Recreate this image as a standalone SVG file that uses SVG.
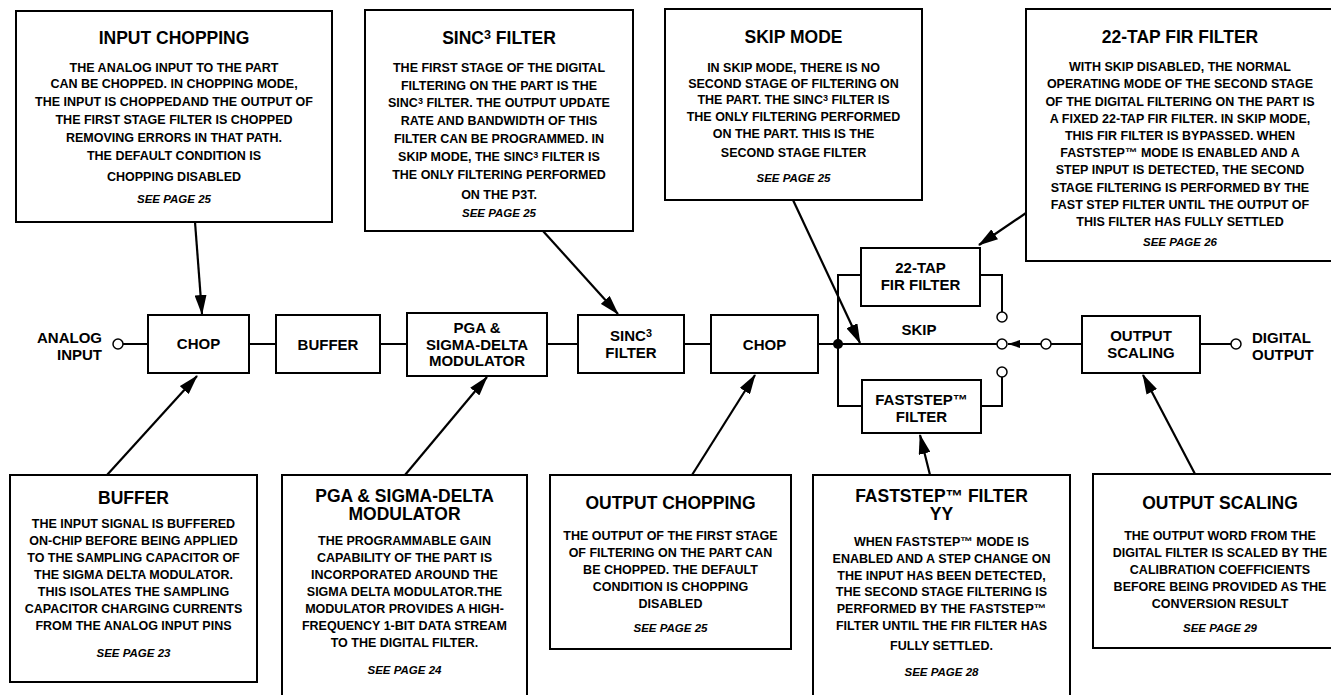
<svg xmlns="http://www.w3.org/2000/svg" width="1331" height="695" viewBox="0 0 1331 695">
<defs>
<style>
.box{fill:#fff;stroke:#000;stroke-width:2}
.t{font-family:"Liberation Sans",Arial,Helvetica,sans-serif;font-weight:bold;text-anchor:middle;fill:#000}
.ti{font-size:17.5px}
.b{font-size:12.5px}
.s{font-size:11.5px;font-style:italic}
.l{font-size:15px}
.sup{font-size:72%;baseline-shift:38%}
.w{stroke:#000;stroke-width:2;fill:none}
.a{stroke:#000;stroke-width:2.2;fill:none;marker-end:url(#ah)}
.pin{fill:#fff;stroke:#000;stroke-width:1.5}
</style>
<marker id="ah" viewBox="0 0 20 12" refX="19" refY="6" markerWidth="20" markerHeight="12" markerUnits="userSpaceOnUse" orient="auto"><path d="M0,0 L20,6 L0,12 z" fill="#000"/></marker>
<marker id="ahs" viewBox="0 0 12 8" refX="12" refY="4" markerWidth="12" markerHeight="8" markerUnits="userSpaceOnUse" orient="auto"><path d="M0,0 L12,4 L0,8 z" fill="#000"/></marker>
</defs>
<rect width="1331" height="695" fill="#fff"/>

<g id="connectors">
<line class="w" x1="123" y1="344" x2="148" y2="344"/>
<line class="w" x1="249" y1="344" x2="276" y2="344"/>
<line class="w" x1="380" y1="344" x2="407" y2="344"/>
<line class="w" x1="547" y1="344" x2="578" y2="344"/>
<line class="w" x1="684" y1="344" x2="711" y2="344"/>
<line class="w" x1="818" y1="344" x2="997" y2="344"/>
<polyline class="w" points="861,275 838,275 838,406 862,406"/>
<polyline class="w" points="980,275 1002,275 1002,312"/>
<polyline class="w" points="981,406 1002,406 1002,377"/>
<line class="w" x1="1041" y1="344" x2="1008" y2="344" marker-end="url(#ahs)"/>
<line class="w" x1="1051" y1="344" x2="1082" y2="344"/>
<line class="w" x1="1200" y1="344" x2="1231" y2="344"/>
<circle cx="838" cy="344" r="5" fill="#000"/>
<circle class="pin" cx="118" cy="344" r="5"/>
<circle class="pin" cx="1002" cy="317" r="5"/>
<circle class="pin" cx="1002" cy="344" r="5"/>
<circle class="pin" cx="1002" cy="372" r="5"/>
<circle class="pin" cx="1046" cy="344" r="5"/>
<circle class="pin" cx="1236" cy="344" r="5"/>
<line class="a" x1="195" y1="222" x2="202" y2="314"/>
<line class="a" x1="543" y1="231" x2="618" y2="314"/>
<line class="a" x1="793" y1="200" x2="860" y2="343"/>
<line class="a" x1="1026" y1="213" x2="979" y2="245"/>
<line class="a" x1="107" y1="475" x2="197" y2="376"/>
<line class="a" x1="405" y1="475" x2="487" y2="377"/>
<line class="a" x1="692" y1="475" x2="755" y2="375"/>
<line class="a" x1="930" y1="475" x2="920" y2="435"/>
<line class="a" x1="1195" y1="474" x2="1143" y2="375"/>
</g>

<g id="analog-input"><text class="t l" style="text-anchor:end"><tspan x="102" y="343">ANALOG</tspan><tspan x="102" y="360">INPUT</tspan></text></g>
<g id="digital-output"><text class="t l" style="text-anchor:start"><tspan x="1252" y="343">DIGITAL</tspan><tspan x="1252" y="360">OUTPUT</tspan></text></g>
<g id="skip-label"><text class="t l" x="919" y="335">SKIP</text></g>

<g id="chop1"><rect class="box" x="148" y="315" width="101" height="58"/><text class="t l" x="198.5" y="349">CHOP</text></g>
<g id="buffer"><rect class="box" x="276" y="315" width="104" height="58"/><text class="t l" x="328" y="350">BUFFER</text></g>
<g id="pga"><rect class="box" x="407" y="313" width="140" height="63"/><text class="t l"><tspan x="477" y="333">PGA &amp;</tspan><tspan x="477" y="349.5">SIGMA-DELTA</tspan><tspan x="477" y="366">MODULATOR</tspan></text></g>
<g id="sinc3"><rect class="box" x="578" y="315" width="106" height="58"/><text class="t l"><tspan x="631" y="341">SINC<tspan class="sup">3</tspan></tspan><tspan x="631" y="358">FILTER</tspan></text></g>
<g id="chop2"><rect class="box" x="711" y="315" width="107" height="58"/><text class="t l" x="764.5" y="350">CHOP</text></g>
<g id="fir"><rect class="box" x="861" y="248" width="119" height="58"/><text class="t l"><tspan x="920.5" y="273">22-TAP</tspan><tspan x="920.5" y="290">FIR FILTER</tspan></text></g>
<g id="faststep"><rect class="box" x="862" y="380" width="119" height="53"/><text class="t l"><tspan x="921.5" y="405">FASTSTEP™</tspan><tspan x="921.5" y="422">FILTER</tspan></text></g>
<g id="outscale"><rect class="box" x="1082" y="316" width="118" height="57"/><text class="t l"><tspan x="1141" y="341">OUTPUT</tspan><tspan x="1141" y="358">SCALING</tspan></text></g>

<g id="note-input-chopping"><rect class="box" x="16" y="11" width="316" height="211"/>
<text class="t ti" x="174" y="44">INPUT CHOPPING</text>
<text class="t b"><tspan x="174" y="71.5">THE ANALOG INPUT TO THE PART</tspan><tspan x="174" y="88">CAN BE CHOPPED. IN CHOPPING  MODE,</tspan><tspan x="174" y="105.5">THE INPUT IS CHOPPEDAND THE OUTPUT OF</tspan><tspan x="174" y="123.5">THE FIRST STAGE FILTER IS CHOPPED</tspan><tspan x="174" y="141.5">REMOVING ERRORS IN THAT PATH.</tspan><tspan x="174" y="159.5">THE DEFAULT CONDITION IS</tspan><tspan x="174" y="180.5">CHOPPING DISABLED</tspan></text>
<text class="t s" x="174" y="203">SEE PAGE 25</text></g>

<g id="note-sinc3"><rect class="box" x="365" y="10" width="268" height="221"/>
<text class="t ti" x="499" y="44">SINC<tspan class="sup">3</tspan> FILTER</text>
<text class="t b"><tspan x="499" y="71.5">THE FIRST STAGE OF THE DIGITAL</tspan><tspan x="499" y="89.5">FILTERING ON THE PART IS THE</tspan><tspan x="499" y="106.5">SINC<tspan class="sup">3</tspan> FILTER. THE OUTPUT UPDATE</tspan><tspan x="499" y="124.5">RATE AND BANDWIDTH OF THIS</tspan><tspan x="499" y="142.5">FILTER CAN BE PROGRAMMED. IN</tspan><tspan x="499" y="160.5">SKIP MODE, THE SINC<tspan class="sup">3</tspan> FILTER IS</tspan><tspan x="499" y="178.5">THE ONLY FILTERING PERFORMED</tspan><tspan x="499" y="198.5">ON THE P3T.</tspan></text>
<text class="t s" x="499" y="217">SEE PAGE 25</text></g>

<g id="note-skip"><rect class="box" x="665" y="9" width="257" height="191"/>
<text class="t ti" x="793.5" y="43">SKIP MODE</text>
<text class="t b"><tspan x="793.5" y="71.5">IN SKIP MODE, THERE IS NO</tspan><tspan x="793.5" y="88">SECOND STAGE OF FILTERING ON</tspan><tspan x="793.5" y="104">THE PART. THE SINC<tspan class="sup">3</tspan> FILTER IS</tspan><tspan x="793.5" y="121">THE ONLY FILTERING PERFORMED</tspan><tspan x="793.5" y="138">ON THE PART. THIS IS THE</tspan><tspan x="793.5" y="156.5">SECOND STAGE FILTER</tspan></text>
<text class="t s" x="793.5" y="182">SEE PAGE 25</text></g>

<g id="note-fir"><rect class="box" x="1026" y="9" width="310" height="252"/>
<text class="t ti" x="1180" y="43">22-TAP FIR FILTER</text>
<text class="t b"><tspan x="1180" y="70.5">WITH SKIP DISABLED, THE NORMAL</tspan><tspan x="1180" y="88">OPERATING MODE OF THE SECOND STAGE</tspan><tspan x="1180" y="105.5">OF THE DIGITAL FILTERING ON THE PART IS</tspan><tspan x="1180" y="122.5">A FIXED 22-TAP FIR FILTER. IN SKIP MODE,</tspan><tspan x="1180" y="139.5">THIS FIR FILTER IS BYPASSED. WHEN</tspan><tspan x="1180" y="156.5">FASTSTEP™ MODE IS ENABLED AND A</tspan><tspan x="1180" y="174">STEP INPUT IS DETECTED, THE SECOND</tspan><tspan x="1180" y="191.5">STAGE FILTERING IS PERFORMED BY THE</tspan><tspan x="1180" y="208.5">FAST STEP FILTER UNTIL THE OUTPUT OF</tspan><tspan x="1180" y="226">THIS FILTER HAS FULLY SETTLED</tspan></text>
<text class="t s" x="1180" y="246">SEE PAGE 26</text></g>

<g id="note-buffer"><rect class="box" x="10" y="475" width="247" height="207"/>
<text class="t ti" x="133.5" y="504">BUFFER</text>
<text class="t b"><tspan x="133.5" y="527.5">THE INPUT SIGNAL IS BUFFERED</tspan><tspan x="133.5" y="544.5">ON-CHIP BEFORE BEING APPLIED</tspan><tspan x="133.5" y="561.5">TO THE SAMPLING CAPACITOR OF</tspan><tspan x="133.5" y="578.5">THE SIGMA DELTA MODULATOR.</tspan><tspan x="133.5" y="595.5">THIS ISOLATES THE SAMPLING</tspan><tspan x="133.5" y="612.5">CAPACITOR CHARGING CURRENTS</tspan><tspan x="133.5" y="629.5">FROM THE ANALOG INPUT PINS</tspan></text>
<text class="t s" x="133.5" y="657">SEE PAGE 23</text></g>

<g id="note-pga"><rect class="box" x="282" y="475" width="245" height="240"/>
<text class="t ti"><tspan x="404.5" y="502">PGA &amp; SIGMA-DELTA</tspan><tspan x="404.5" y="520">MODULATOR</tspan></text>
<text class="t b"><tspan x="404.5" y="544.5">THE PROGRAMMABLE GAIN</tspan><tspan x="404.5" y="561.5">CAPABILITY OF THE PART IS</tspan><tspan x="404.5" y="578.5">INCORPORATED AROUND THE</tspan><tspan x="404.5" y="595.5">SIGMA DELTA MODULATOR.THE</tspan><tspan x="404.5" y="612.5">MODULATOR PROVIDES A HIGH-</tspan><tspan x="404.5" y="629.5">FREQUENCY 1-BIT DATA STREAM</tspan><tspan x="404.5" y="646.5">TO THE DIGITAL FILTER.</tspan></text>
<text class="t s" x="404.5" y="674">SEE PAGE 24</text></g>

<g id="note-output-chopping"><rect class="box" x="550" y="475" width="241" height="174"/>
<text class="t ti" x="670.5" y="509">OUTPUT CHOPPING</text>
<text class="t b"><tspan x="670.5" y="539.5">THE OUTPUT OF THE FIRST STAGE</tspan><tspan x="670.5" y="556.5">OF FILTERING ON THE PART CAN</tspan><tspan x="670.5" y="573.5">BE CHOPPED. THE DEFAULT</tspan><tspan x="670.5" y="590.5">CONDITION IS CHOPPING</tspan><tspan x="670.5" y="607.5">DISABLED</tspan></text>
<text class="t s" x="670.5" y="632">SEE PAGE 25</text></g>

<g id="note-faststep"><rect class="box" x="813" y="475" width="257" height="240"/>
<text class="t ti"><tspan x="941.5" y="502">FASTSTEP™ FILTER</tspan><tspan x="941.5" y="520">YY</tspan></text>
<text class="t b"><tspan x="941.5" y="545.5">WHEN FASTSTEP™ MODE IS</tspan><tspan x="941.5" y="562.5">ENABLED AND A STEP CHANGE ON</tspan><tspan x="941.5" y="579.5">THE INPUT HAS BEEN DETECTED,</tspan><tspan x="941.5" y="595.5">THE SECOND STAGE FILTERING IS</tspan><tspan x="941.5" y="612.5">PERFORMED BY THE FASTSTEP™</tspan><tspan x="941.5" y="629.5">FILTER UNTIL THE FIR FILTER HAS</tspan><tspan x="941.5" y="649.5">FULLY SETTLED.</tspan></text>
<text class="t s" x="941.5" y="676">SEE PAGE 28</text></g>

<g id="note-output-scaling"><rect class="box" x="1093" y="474" width="255" height="174"/>
<text class="t ti" x="1220" y="509">OUTPUT SCALING</text>
<text class="t b"><tspan x="1220" y="539.5">THE OUTPUT WORD FROM THE</tspan><tspan x="1220" y="556.5">DIGITAL FILTER IS SCALED BY THE</tspan><tspan x="1220" y="573.5">CALIBRATION COEFFICIENTS</tspan><tspan x="1220" y="590.5">BEFORE BEING PROVIDED AS THE</tspan><tspan x="1220" y="607.5">CONVERSION RESULT</tspan></text>
<text class="t s" x="1220" y="632">SEE PAGE 29</text></g>
</svg>
